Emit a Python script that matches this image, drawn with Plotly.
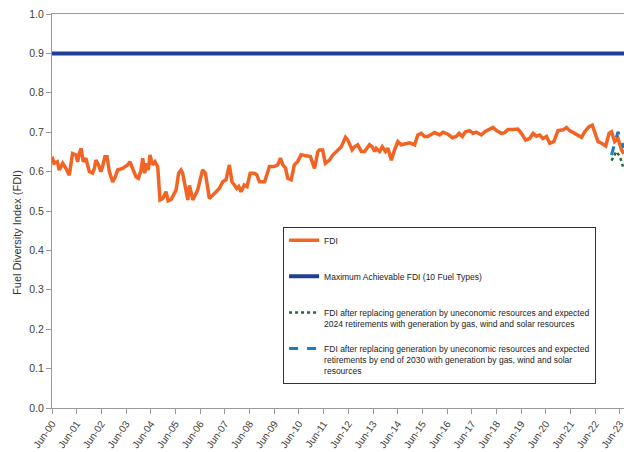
import plotly.graph_objects as go

# ---- data ----
fdi_dates = [
    "2000-06-01", "2000-07-01", "2000-08-20", "2000-09-15", "2000-11-05", "2000-12-25",
    "2001-02-12", "2001-04-01", "2001-05-20", "2001-06-15", "2001-07-10", "2001-08-05",
    "2001-09-07", "2001-10-15", "2001-12-05", "2002-01-22", "2002-02-18", "2002-03-12",
    "2002-04-20", "2002-05-25", "2002-06-18", "2002-07-24", "2002-08-24", "2002-09-27",
    "2002-11-15", "2002-12-24", "2003-01-28", "2003-04-10", "2003-06-25", "2003-07-28",
    "2003-09-06", "2003-10-27", "2003-12-01", "2004-01-10", "2004-02-03", "2004-03-01",
    "2004-04-01", "2004-04-25", "2004-05-20", "2004-06-28", "2004-08-03", "2004-09-12",
    "2004-10-15", "2004-11-25", "2005-01-12", "2005-02-12", "2005-03-28", "2005-05-15",
    "2005-06-10", "2005-07-18", "2005-08-22", "2005-09-15", "2005-11-05", "2005-12-01",
    "2005-12-25", "2006-02-12", "2006-04-25", "2006-07-07", "2006-08-18", "2006-10-15",
    "2006-12-03", "2007-03-12", "2007-05-01", "2007-06-18", "2007-08-07", "2007-09-15",
    "2007-10-20", "2007-11-25", "2007-12-25", "2008-01-28", "2008-03-15", "2008-04-25",
    "2008-06-10", "2008-08-12", "2008-09-15", "2008-10-25", "2009-01-10", "2009-03-22",
    "2009-06-04", "2009-07-22", "2009-09-01", "2009-10-06", "2009-11-15", "2009-12-18",
    "2010-02-07", "2010-03-25", "2010-05-15", "2010-07-03", "2010-09-15", "2010-11-18",
    "2011-01-18", "2011-03-07", "2011-04-01", "2011-05-18", "2011-06-27", "2011-08-27",
    "2011-10-15", "2011-12-27", "2012-02-18", "2012-04-20", "2012-05-25", "2012-07-27",
    "2012-09-01", "2012-10-18", "2012-12-10", "2013-01-27", "2013-04-10", "2013-05-18",
    "2013-06-25", "2013-07-18", "2013-09-06", "2013-10-15", "2013-12-03", "2014-01-07",
    "2014-02-27", "2014-04-15", "2014-06-03", "2014-07-22", "2014-10-07", "2014-11-25",
    "2015-02-07", "2015-03-25", "2015-05-15", "2015-07-03", "2015-08-20", "2015-10-10",
    "2015-11-27", "2016-02-12", "2016-04-01", "2016-06-12", "2016-08-18", "2016-10-15",
    "2016-11-25", "2017-01-12", "2017-02-27", "2017-05-01", "2017-06-18", "2017-08-07",
    "2017-10-20", "2017-12-10", "2018-02-20", "2018-04-10", "2018-06-01", "2018-08-12",
    "2018-10-01", "2018-11-18", "2019-02-01", "2019-04-15", "2019-06-03", "2019-08-07",
    "2019-10-03", "2019-11-25", "2020-01-12", "2020-03-01", "2020-04-18", "2020-06-10",
    "2020-07-27", "2020-09-25", "2020-11-27", "2021-02-10", "2021-04-01", "2021-05-18",
    "2021-08-01", "2021-09-18", "2021-11-10", "2021-12-27", "2022-03-01", "2022-04-18",
    "2022-05-25", "2022-07-12", "2022-09-01", "2022-11-03", "2022-12-22", "2023-01-27",
    "2023-03-15", "2023-05-03", "2023-06-25", "2023-07-31",
]
fdi_values = [
    0.638, 0.621, 0.625, 0.604, 0.621, 0.608,
    0.591, 0.646, 0.642, 0.625, 0.646, 0.659,
    0.625, 0.634, 0.600, 0.596, 0.608, 0.629,
    0.617, 0.600, 0.612, 0.638, 0.638, 0.600,
    0.574, 0.587, 0.604, 0.608, 0.617, 0.625,
    0.608, 0.587, 0.583, 0.604, 0.634, 0.596,
    0.621, 0.604, 0.642, 0.617, 0.625, 0.612,
    0.528, 0.532, 0.549, 0.526, 0.529, 0.545,
    0.553, 0.596, 0.604, 0.596, 0.553, 0.528,
    0.565, 0.528, 0.553, 0.604, 0.596, 0.532,
    0.540, 0.557, 0.574, 0.579, 0.617, 0.574,
    0.566, 0.557, 0.562, 0.549, 0.566, 0.562,
    0.596, 0.596, 0.592, 0.574, 0.574, 0.613,
    0.613, 0.617, 0.634, 0.617, 0.609, 0.583,
    0.579, 0.617, 0.626, 0.643, 0.640, 0.638,
    0.608, 0.650, 0.655, 0.655, 0.621, 0.629,
    0.642, 0.655, 0.663, 0.687, 0.680, 0.655,
    0.663, 0.668, 0.651, 0.651, 0.668, 0.663,
    0.651, 0.659, 0.651, 0.663, 0.651, 0.659,
    0.629, 0.655, 0.676, 0.668, 0.672, 0.673,
    0.668, 0.693, 0.697, 0.689, 0.689, 0.693,
    0.699, 0.693, 0.700, 0.695, 0.686, 0.689,
    0.697, 0.689, 0.701, 0.704, 0.697, 0.700,
    0.693, 0.701, 0.707, 0.712, 0.704, 0.697,
    0.699, 0.707, 0.707, 0.708, 0.697, 0.680,
    0.684, 0.697, 0.690, 0.693, 0.684, 0.689,
    0.672, 0.676, 0.704, 0.706, 0.712, 0.704,
    0.697, 0.693, 0.687, 0.701, 0.714, 0.718,
    0.697, 0.676, 0.672, 0.665, 0.697, 0.701,
    0.676, 0.684, 0.655, 0.645,
]

max_dates = ["2000-06-01", "2023-07-31"]
max_values = [0.9, 0.9]

s2024_dates = ["2023-01-27", "2023-04-10", "2023-06-01", "2023-07-31"]
s2024_values = [0.628, 0.651, 0.638, 0.605]

s2030_dates = ["2023-01-27", "2023-03-10", "2023-05-03", "2023-06-20", "2023-07-31"]
s2030_values = [0.642, 0.670, 0.701, 0.680, 0.660]

names = [
    "FDI<br> ",
    "Maximum Achievable FDI (10 Fuel Types)<br> ",
    "FDI after replacing generation by uneconomic resources and expected<br>"
    "2024 retirements with generation by gas, wind and solar resources",
    "FDI after replacing generation by uneconomic resources and expected<br>"
    "retirements by end of 2030 with generation by gas, wind and solar<br>resources",
]

FONT = "Liberation Sans, Arial, sans-serif"

fig = go.Figure()
fig.add_trace(go.Scatter(x=fdi_dates, y=fdi_values, mode="lines", name=names[0],
                         legendgroup="a",
                         line=dict(color="#F26424", width=3.5)))
fig.add_trace(go.Scatter(x=max_dates, y=max_values, mode="lines", name=names[1],
                         legendgroup="b",
                         line=dict(color="#223F98", width=4)))
fig.add_trace(go.Scatter(x=s2024_dates, y=s2024_values, mode="lines", name=names[2],
                         legendgroup="c",
                         line=dict(color="#1C6B3A", width=2.5, dash="dot")))
fig.add_trace(go.Scatter(x=s2030_dates, y=s2030_values, mode="lines", name=names[3],
                         legendgroup="d",
                         line=dict(color="#1B7BC4", width=3, dash="dash")))

fig.update_layout(
    width=624, height=452,
    margin=dict(l=52, r=0, t=14, b=44, autoexpand=False),
    paper_bgcolor="white", plot_bgcolor="white",
    font=dict(family=FONT, color="#404040"),
    showlegend=True,
    legend=dict(
        x=0.404, y=0.459, xanchor="left", yanchor="top",
        bgcolor="white", bordercolor="#333333", borderwidth=1,
        font=dict(size=8.5, color="#222222", family=FONT),
        valign="top", tracegroupgap=11, itemwidth=30,
    ),
    xaxis=dict(
        type="date", range=["2000-06-01", "2023-07-31"],
        tick0="2000-06-01", dtick="M12", tickformat="%b-%y",
        tickangle=-55, tickfont=dict(size=10, color="#404040"),
        showline=True, linecolor="#999999", linewidth=1, mirror=True,
        ticks="outside", ticklen=5, tickcolor="#999999",
        showgrid=False, zeroline=False, automargin=False,
        ticklabeloverflow="allow",
    ),
    yaxis=dict(
        range=[0, 1], dtick=0.1, tick0=0, tickformat=".1f",
        tickfont=dict(size=10.5, color="#404040"),
        showline=True, linecolor="#999999", linewidth=1,
        ticks="outside", ticklen=5, tickcolor="#999999",
        showgrid=False, zeroline=False, automargin=False,
        ticklabeloverflow="allow",
    ),
    annotations=[dict(
        text="Fuel Diversity Index (FDI)", textangle=-90,
        xref="paper", yref="paper", x=-0.0612, y=0.447,
        xanchor="center", yanchor="middle", showarrow=False,
        font=dict(size=11, color="#333333", family=FONT),
    )],
)

# remove the browser's default 8px body margin so the figure sits at the page corner
fig.write_html(
    "out.html",
    config={"displayModeBar": False},
    post_script="document.body.style.margin='0';document.body.style.overflow='hidden';",
)
